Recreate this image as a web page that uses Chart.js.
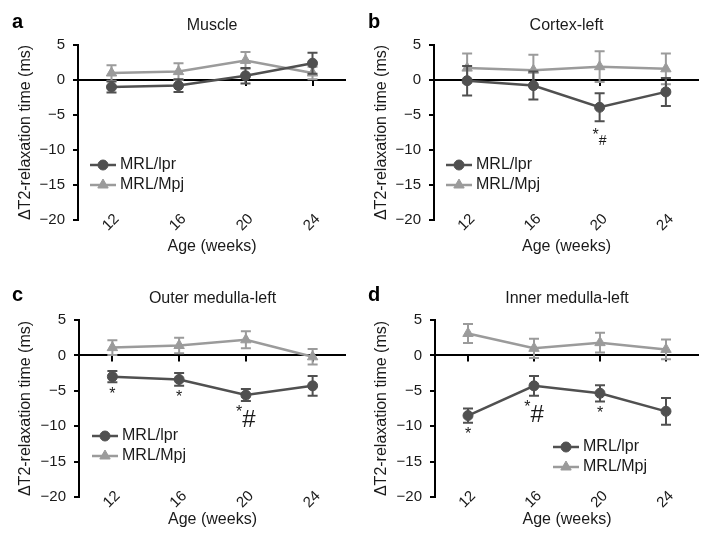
<!DOCTYPE html>
<html>
<head>
<meta charset="utf-8">
<script src="https://cdn.jsdelivr.net/npm/chart.js@4/dist/chart.umd.min.js"></script>
<style>
body { margin: 0; background: #fff; }
#wrap { position: relative; width: 712px; height: 547px; }
canvas { position: absolute; }
</style>
</head>
<body>
<div id="wrap">
  <canvas id="pa" width="356" height="273" style="left:0;top:0"></canvas>
  <canvas id="pb" width="356" height="273" style="left:356px;top:0"></canvas>
  <canvas id="pc" width="356" height="274" style="left:0;top:273px"></canvas>
  <canvas id="pd" width="356" height="274" style="left:356px;top:273px"></canvas>
</div>
<script>
// data (ms)
var ages = ['12', '16', '20', '24'];
var seriesNames = ['MRL/lpr', 'MRL/Mpj'];

var muscleLpr = [-1.0, -0.8, 0.6, 2.4];
var muscleLprErr = [0.8, 0.9, 1.1, 1.5];
var muscleMpj = [1.0, 1.2, 2.8, 1.0];
var muscleMpjErr = [1.1, 1.2, 1.2, 0.9];
var muscleMarks = ['', '', '', ''];

var cortexLpr = [-0.1, -0.8, -3.9, -1.7];
var cortexLprErr = [2.1, 2.0, 2.0, 2.0];
var cortexMpj = [1.7, 1.4, 1.9, 1.6];
var cortexMpjErr = [2.1, 2.2, 2.2, 2.2];
var cortexMarks = ['', '', '*#', ''];

var outerLpr = [-3.0, -3.4, -5.6, -4.3];
var outerLprErr = [0.8, 0.9, 0.85, 1.4];
var outerMpj = [1.1, 1.4, 2.2, -0.2];
var outerMpjErr = [1.05, 1.1, 1.2, 1.1];
var outerMarks = ['*', '*', '*#', ''];

var innerLpr = [-8.5, -4.3, -5.35, -7.9];
var innerLprErr = [1.0, 1.4, 1.15, 1.9];
var innerMpj = [3.1, 1.0, 1.8, 0.85];
var innerMpjErr = [1.35, 1.35, 1.4, 1.4];
var innerMarks = ['*', '*#', '*', ''];

var FONT = '"Liberation Sans", Arial, Helvetica, sans-serif';
var DARK = '#505050';
var LIGHT = '#9b9b9b';
var TEXT = '#1a1a1a';
Chart.defaults.font.family = FONT;
Chart.defaults.color = TEXT;

var panels = [
    { id: 'pa', letter: 'a', title: 'Muscle', lpr: muscleLpr, lprErr: muscleLprErr, mpj: muscleMpj, mpjErr: muscleMpjErr, marks: muscleMarks,
      area: { left: 78, top: 45, right: 346, bottom: 220 }, legend: { x: 90, y: 165 }, hashSize: 14, hashDrop: 24, starDrop: 14 },
    { id: 'pb', letter: 'b', title: 'Cortex-left', lpr: cortexLpr, lprErr: cortexLprErr, mpj: cortexMpj, mpjErr: cortexMpjErr, marks: cortexMarks,
      area: { left: 78, top: 45, right: 343, bottom: 220 }, legend: { x: 90, y: 165 }, hashSize: 14, hashDrop: 24, starDrop: 14 },
    { id: 'pc', letter: 'c', title: 'Outer medulla-left', lpr: outerLpr, lprErr: outerLprErr, mpj: outerMpj, mpjErr: outerMpjErr, marks: outerMarks,
      area: { left: 79, top: 47, right: 346, bottom: 224 }, legend: { x: 92, y: 163 }, hashSize: 24, hashDrop: 26, starDrop: 12 },
    { id: 'pd', letter: 'd', title: 'Inner medulla-left', lpr: innerLpr, lprErr: innerLprErr, mpj: innerMpj, mpjErr: innerMpjErr, marks: innerMarks,
      area: { left: 79, top: 47, right: 343, bottom: 224 }, legend: { x: 197, y: 174 }, hashSize: 24, hashDrop: 26, starDrop: 12 }
];

// little ticks hanging under the zero line
var zeroTicks = {
    id: 'zeroTicks',
    beforeDatasetsDraw: function (chart) {
        var ctx = chart.ctx, xs = chart.scales.x, y0 = chart.scales.y.getPixelForValue(0);
        ctx.save();
        ctx.strokeStyle = '#000';
        ctx.lineWidth = 2;
        for (var i = 0; i < chart.data.labels.length; i++) {
            var x = Math.round(xs.getPixelForValue(i));
            ctx.beginPath();
            ctx.moveTo(x, y0);
            ctx.lineTo(x, y0 + 6);
            ctx.stroke();
        }
        ctx.restore();
    }
};

var errorBars = {
    id: 'errorBars',
    beforeDatasetDraw: function (chart, args) {
        var ds = chart.data.datasets[args.index];
        if (!ds.errors) return;
        var ctx = chart.ctx, ys = chart.scales.y;
        ctx.save();
        ctx.strokeStyle = ds.borderColor;
        ctx.lineWidth = 2;
        args.meta.data.forEach(function (pt, i) {
            var hi = ys.getPixelForValue(ds.data[i] + ds.errors[i]);
            var lo = ys.getPixelForValue(ds.data[i] - ds.errors[i]);
            ctx.beginPath();
            ctx.moveTo(pt.x, hi); ctx.lineTo(pt.x, lo);
            ctx.moveTo(pt.x - 5, hi); ctx.lineTo(pt.x + 5, hi);
            ctx.moveTo(pt.x - 5, lo); ctx.lineTo(pt.x + 5, lo);
            ctx.stroke();
        });
        ctx.restore();
    }
};

// significance marks under MRL/lpr points
var sigMarks = {
    id: 'sigMarks',
    afterDatasetsDraw: function (chart, args, opts) {
        var ctx = chart.ctx, ds = chart.data.datasets[0], ys = chart.scales.y;
        var meta = chart.getDatasetMeta(0);
        ctx.save();
        ctx.fillStyle = TEXT;
        opts.marks.forEach(function (m, i) {
            if (!m) return;
            var cap = ys.getPixelForValue(ds.data[i] - ds.errors[i]);
            var starFont = '16px ' + FONT, hashFont = opts.hashSize + 'px ' + FONT;
            ctx.font = starFont;
            var ws = ctx.measureText('*').width;
            ctx.font = hashFont;
            var wh = m.indexOf('#') >= 0 ? ctx.measureText('#').width : 0;
            var x = meta.data[i].x - (ws + wh) / 2;
            ctx.textAlign = 'left';
            ctx.font = starFont;
            ctx.textBaseline = 'middle';
            ctx.fillText('*', x, cap + opts.starDrop);
            if (wh) {
                ctx.font = hashFont;
                ctx.textBaseline = 'alphabetic';
                ctx.fillText('#', x + ws, cap + opts.hashDrop);
            }
        });
        ctx.restore();
    }
};

var legendBox = {
    id: 'legendBox',
    afterDraw: function (chart, args, opts) {
        var ctx = chart.ctx;
        chart.data.datasets.forEach(function (ds, i) {
            var x = opts.x, y = opts.y + i * 20;
            ctx.save();
            ctx.strokeStyle = ds.borderColor;
            ctx.fillStyle = ds.backgroundColor;
            ctx.lineWidth = 2.5;
            ctx.beginPath();
            ctx.moveTo(x, y); ctx.lineTo(x + 26, y);
            ctx.stroke();
            ctx.lineWidth = 1;
            Chart.helpers.drawPoint(ctx, { pointStyle: ds.pointStyle, radius: ds.pointRadius, borderWidth: 1, rotation: 0 }, x + 13, y);
            ctx.fillStyle = TEXT;
            ctx.font = '16px ' + FONT;
            ctx.textBaseline = 'middle';
            ctx.textAlign = 'left';
            ctx.fillText(ds.label, x + 30, y);
            ctx.restore();
        });
    }
};

var panelLetter = {
    id: 'panelLetter',
    afterDraw: function (chart, args, opts) {
        var ctx = chart.ctx;
        ctx.save();
        ctx.fillStyle = '#000';
        ctx.font = 'bold 20px ' + FONT;
        ctx.textBaseline = 'alphabetic';
        ctx.fillText(opts.text, 12, 28);
        ctx.restore();
    }
};

function yLabel(v) {
    return v < 0 ? '\u2212' + (-v) : String(v);
}

panels.forEach(function (p) {
    var canvas = document.getElementById(p.id);
    var W = canvas.width, H = canvas.height, a = p.area;
    new Chart(canvas.getContext('2d'), {
        type: 'line',
        data: {
            labels: ages,
            datasets: [{
                label: seriesNames[0],
                data: p.lpr,
                errors: p.lprErr,
                borderColor: DARK,
                backgroundColor: DARK,
                borderWidth: 2.5,
                pointStyle: 'circle',
                pointRadius: 5,
                pointBorderWidth: 1,
                tension: 0
            }, {
                label: seriesNames[1],
                data: p.mpj,
                errors: p.mpjErr,
                borderColor: LIGHT,
                backgroundColor: LIGHT,
                borderWidth: 2.5,
                pointStyle: 'triangle',
                pointRadius: 6,
                pointBorderWidth: 1,
                tension: 0
            }]
        },
        options: {
            responsive: false,
            animation: false,
            events: [],
            layout: { padding: { left: 0, right: W - a.right, top: 0, bottom: 0 } },
            plugins: {
                legend: { display: false },
                tooltip: { enabled: false },
                title: {
                    display: true,
                    text: p.title,
                    fullSize: false,
                    color: TEXT,
                    font: { size: 16, weight: 'normal' },
                    padding: { top: 16, bottom: a.top - 16 - 19.2 }
                },
                legendBox: p.legend,
                sigMarks: { marks: p.marks, hashSize: p.hashSize, hashDrop: p.hashDrop, starDrop: p.starDrop },
                panelLetter: { text: p.letter }
            },
            scales: {
                x: {
                    type: 'category',
                    offset: true,
                    grid: { display: false },
                    border: { display: false },
                    // mirror keeps the labels from being clipped to the axis box
                    ticks: { mirror: true, minRotation: 45, maxRotation: 45, padding: -3, labelOffset: 18, color: TEXT, font: { size: 15 } },
                    title: { display: true, text: 'Age (weeks)', color: TEXT, font: { size: 16 }, padding: { top: 0, bottom: H - 247 - 9.6 } },
                    afterFit: function (s) { s.height = H - a.bottom; }
                },
                y: {
                    min: -20,
                    max: 5,
                    ticks: { stepSize: 5, padding: 8, color: TEXT, font: { size: 15 }, callback: yLabel },
                    grid: {
                        drawOnChartArea: true,
                        color: function (c) { return c.tick && c.tick.value === 0 ? '#000' : 'rgba(0,0,0,0)'; },
                        tickColor: '#000',
                        tickLength: 5,
                        lineWidth: 2
                    },
                    border: { display: true, color: '#000', width: 2 },
                    title: { display: true, text: '\u0394T2-relaxation time (ms)', color: TEXT, font: { size: 16 }, padding: { top: 16, bottom: 0 } },
                    afterFit: function (s) { s.width = a.left; }
                }
            }
        },
        plugins: [zeroTicks, errorBars, sigMarks, legendBox, panelLetter]
    });
});
</script>
</body>
</html>
